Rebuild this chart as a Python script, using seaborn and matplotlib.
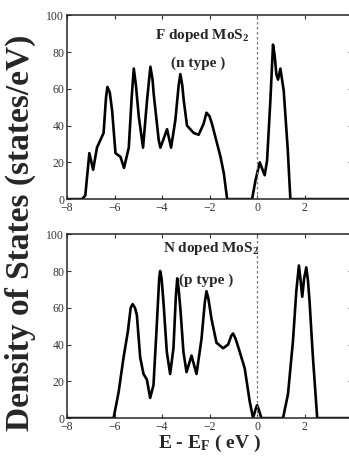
import matplotlib
matplotlib.use("Agg")
import matplotlib.pyplot as plt
import seaborn as sns

# F doped MoS2 (n type)
f_energy = [-8.0, -7.37, -7.23, -7.06, -6.9, -6.74, -6.46, -6.36, -6.3, -6.2, -6.1, -5.96,
            -5.75, -5.6, -5.4, -5.28, -5.19, -5.1, -4.98, -4.8, -4.63, -4.49, -4.4, -4.35,
            -4.14, -4.07, -3.9, -3.79, -3.62, -3.44, -3.3, -3.23, -3.15, -3.09, -2.95,
            -2.67, -2.46, -2.25, -2.13, -2.0, -1.9, -1.54, -1.4, -1.26, -0.21, -0.07, 0.11,
            0.32, 0.42, 0.56, 0.67, 0.74, 0.81, 0.88, 0.98, 1.12, 1.29, 1.4, 4.0]
f_dos = [0, 0, 2, 25, 16, 28, 36, 55, 61, 58, 48, 25,
         23, 17, 28, 55, 71, 62, 45, 28, 54, 72, 65, 57,
         32, 28, 34, 38, 28, 43, 62, 68, 62, 54, 40,
         36, 35, 41, 47, 45, 41, 23, 14, 0, 0, 10, 20,
         13, 21, 54, 84, 78, 68, 65, 71, 59, 27, 0, 0]

# N doped MoS2 (p type)
n_energy = [-8.0, -6.04, -5.83, -5.62, -5.44, -5.32, -5.24, -5.14, -5.06, -4.92, -4.78,
            -4.64, -4.5, -4.36, -4.22, -4.12, -4.08, -4.02, -3.94, -3.8, -3.66, -3.52,
            -3.42, -3.36, -3.3, -3.22, -3.1, -2.97, -2.76, -2.55, -2.34, -2.2, -2.13,
            -2.05, -1.92, -1.71, -1.43, -1.22, -1.08, -1.01, -0.9, -0.73, -0.52, -0.31,
            -0.17, -0.06, 0.0, 0.06, 0.18, 1.09, 1.3, 1.51, 1.65, 1.76, 1.83, 1.9, 1.98,
            2.07, 2.14, 2.21, 2.35, 2.53, 4.0]
n_dos = [0, 0, 14, 33, 47, 60, 62, 60, 56, 33, 24,
         21, 11, 18, 51, 76, 80, 76, 63, 36, 24, 38,
         66, 76, 70, 58, 36, 25, 34, 24, 43, 63, 69,
         65, 54, 41, 38, 40, 45, 46, 43, 36, 27, 9,
         0, 5, 7, 5, 0, 0, 13, 42, 69, 83, 75, 66, 76,
         82, 75, 63, 33, 0, 0]

panels = [(f_energy, f_dos, "F doped MoS$_2$", "(n type )", (-2.3, 89), (-2.5, 74)),
          (n_energy, n_dos, "N doped MoS$_2$", "(p type )", (-1.95, 92), (-2.15, 75))]

sns.set_style("ticks")
plt.rcParams['font.family'] = ['Liberation Serif', 'DejaVu Serif']
plt.rcParams['mathtext.fontset'] = 'custom'
plt.rcParams['mathtext.rm'] = 'Liberation Serif:bold'
plt.rcParams['mathtext.bf'] = 'Liberation Serif:bold'
plt.rcParams['mathtext.default'] = 'bf'

fig = plt.figure(figsize=(3.49, 4.62), dpi=100)
axes = [fig.add_axes([0.192, 0.569, 0.817, 0.398]),
        fig.add_axes([0.192, 0.095, 0.817, 0.398])]

for ax, (x, y, title, kind, tpos, kpos) in zip(axes, panels):
    sns.lineplot(x=x, y=y, color='black', lw=1.9, estimator=None, sort=False, ax=ax)
    ax.axvline(0, color='#777777', ls=(0, (2, 2)), lw=0.9)
    ax.set_xlim(-8, 4)
    ax.set_ylim(0, 100)
    ax.set_xticks([-8, -6, -4, -2, 0, 2, 4])
    ax.set_yticks([0, 20, 40, 60, 80, 100])
    ax.tick_params(direction='in', top=True, right=True, length=3, width=0.8,
                   labelsize=8.5, pad=2, colors='#333333')
    for s in ax.spines.values():
        s.set_linewidth(1.1)
    ax.text(*tpos, title, ha='center', va='center', fontsize=11, fontweight='bold')
    ax.text(*kpos, kind, ha='center', va='center', fontsize=11, fontweight='bold')
    ax.set_xlabel('')
    ax.set_ylabel('')

axes[1].set_xlabel('E - E$_\\mathbf{F}$ ( eV )', fontsize=14, fontweight='bold', labelpad=0)
fig.text(0.058, 0.497, 'Density of States (states/eV)', rotation=90, ha='center',
         va='center', fontsize=24, fontweight='bold')

fig.savefig('out.png', dpi=100)
